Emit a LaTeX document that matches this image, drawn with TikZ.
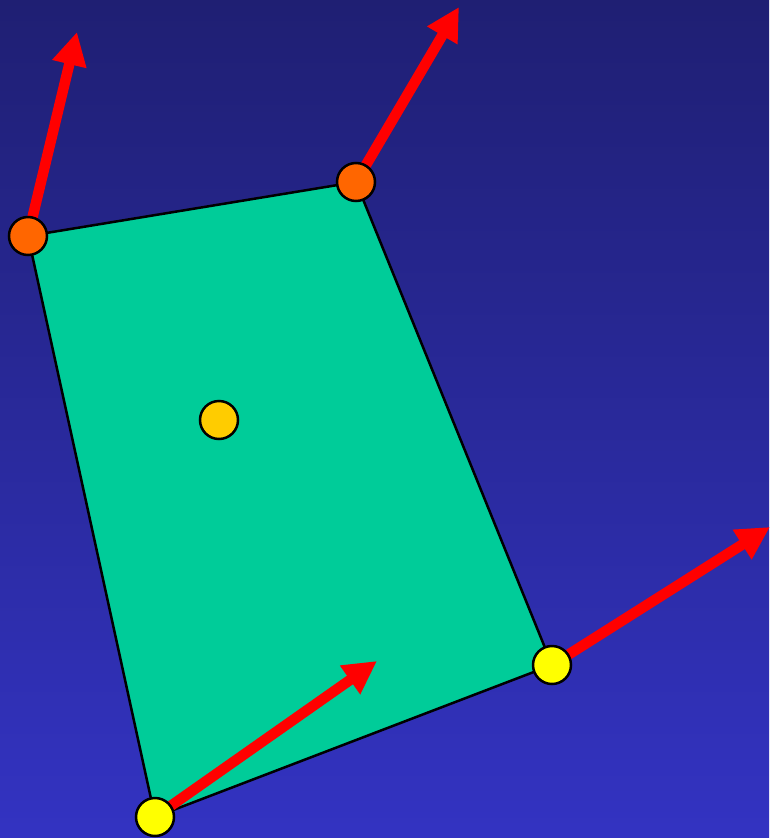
\documentclass[tikz,border=0pt]{standalone}
\usetikzlibrary{arrows.meta}
\definecolor{bgtop}{RGB}{31,31,115}
\definecolor{bgbot}{RGB}{51,51,194}
\definecolor{quadfill}{RGB}{0,204,153}
\definecolor{vorange}{RGB}{255,102,0}
\definecolor{vyellow}{RGB}{255,255,0}
\definecolor{vgold}{RGB}{255,204,0}
\definecolor{arrred}{RGB}{255,0,0}
\tikzset{
  vert/.style={circle, draw=black, line width=2.5pt, minimum size=38pt, inner sep=0pt},
  vec/.style={draw=arrred, line width=10.5pt, -{Triangle[length=33pt,width=33pt]}},
  quad/.style={fill=quadfill, draw=black, line width=2.5pt, line join=miter}
}
\begin{document}
\begin{tikzpicture}[x=1pt,y=-1pt]
\shade[top color=bgtop, bottom color=bgbot] (0,0) rectangle (769,838);
\useasboundingbox (0,0) rectangle (769,838);
\coordinate (ptl) at (28,236);
\coordinate (ptr) at (356,182);
\coordinate (pbr) at (552,665);
\coordinate (pb) at (155,817);
\path[quad] (ptl) -- (ptr) -- (pbr) -- (pb) -- cycle;
\coordinate (ttl) at (77,32);
\coordinate (ttr) at (459,7);
\coordinate (tbr) at (770,527);
\coordinate (tb) at (377,661);
\draw[vec] (ptl) -- (ttl);
\draw[vec] (ptr) -- (ttr);
\draw[vec] (pbr) -- (tbr);
\draw[vec] (pb) -- (tb);
\node[vert, fill=vorange] (ntl) at (ptl) {};
\node[vert, fill=vorange] (ntr) at (ptr) {};
\node[vert, fill=vyellow] (nbr) at (pbr) {};
\node[vert, fill=vyellow] (nb) at (pb) {};
\node[vert, fill=vgold] (nc) at (219,420) {};
\end{tikzpicture}
\end{document}
